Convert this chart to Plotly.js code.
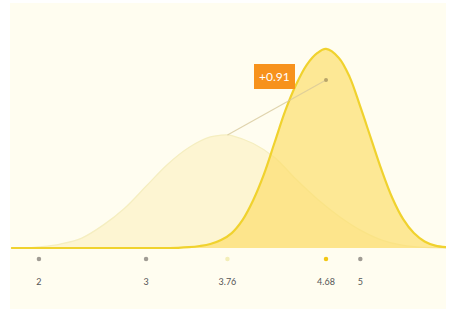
<!DOCTYPE html>
<html><head><meta charset="utf-8">
<script src="https://cdn.plot.ly/plotly-3.0.1.min.js"></script>
<style>html,body{margin:0;padding:0;background:#fff}#c{width:453px;height:313px}</style>
</head><body><div id="c"></div>
<script>
// Light (before) distribution, mean 3.76
const beforeX = [1.9,2.0,2.2,2.4,2.6,2.8,3.0,3.2,3.4,3.6,3.7,3.76,3.8,4.0,4.2,4.4,4.6,4.8,5.0,5.2,5.4,5.6,5.8];
const beforeY = [0,0.005,0.02,0.05,0.115,0.2,0.31,0.42,0.505,0.558,0.567,0.568,0.565,0.525,0.455,0.345,0.245,0.16,0.09,0.04,0.013,0.003,0];
// Gold (after) distribution, mean 4.68
const afterX = [1.74,2.5,3.0,3.3,3.4,3.5,3.6,3.7,3.8,3.9,4.0,4.1,4.2,4.3,4.4,4.5,4.6,4.68,4.8,4.9,5.0,5.1,5.2,5.3,5.4,5.5,5.6,5.7,5.8];
const afterY = [0,0,0,0.001,0.004,0.01,0.02,0.04,0.075,0.14,0.24,0.37,0.53,0.69,0.82,0.92,0.98,1,0.955,0.86,0.71,0.55,0.39,0.25,0.145,0.075,0.033,0.012,0.004];
const tickVals = [2,3,3.76,4.68,5];
const tickText = ['2','3','3.76','4.68','5'];
const tickDotColors = ['#a09c94','#a09c94','#f3eeb8','#f2c714','#a09c94'];
const meanBefore = 3.76, meanAfter = 4.68;
const peakBefore = 0.568, pointAfter = 0.844;
const diffLabel = '+0.91';

const dotY = -0.055, labY = -0.176;

const traces = [
  {x: beforeX, y: beforeY, type:'scatter', mode:'lines', line:{shape:'spline', color:'#f5eec0', width:1.3},
   fill:'tozeroy', fillcolor:'rgba(251,238,180,0.5)', hoverinfo:'skip'},
  {x: afterX, y: afterY, type:'scatter', mode:'lines', line:{shape:'spline', color:'#f0d22e', width:2.2},
   fill:'tozeroy', fillcolor:'rgba(252,222,110,0.7)', hoverinfo:'skip'},
  {x:[meanBefore, meanAfter], y:[peakBefore, pointAfter], type:'scatter', mode:'lines',
   line:{color:'rgba(215,200,155,0.8)', width:1.1}, hoverinfo:'skip'},
  {x:[meanAfter], y:[pointAfter], type:'scatter', mode:'markers', marker:{color:'#b8a46a', size:4}, hoverinfo:'skip'},
  {x: tickVals, y: tickVals.map(()=>dotY), type:'scatter', mode:'markers',
   marker:{color: tickDotColors, size:4.5}, hoverinfo:'skip'},
  {x: tickVals, y: tickVals.map(()=>labY), type:'scatter', mode:'text', text: tickText,
   textfont:{family:'Lato, sans-serif', size:9, color:'#555'}, hoverinfo:'skip'}
];

const layout = {
  width:453, height:313,
  margin:{l:10, r:7, t:3, b:4},
  paper_bgcolor:'#ffffff', plot_bgcolor:'#fffdf0',
  showlegend:false,
  xaxis:{range:[1.73,5.80], showgrid:false, zeroline:false, showticklabels:false, showline:false, ticks:''},
  yaxis:{range:[-0.3065,1.231], showgrid:false, zeroline:false, showticklabels:false, showline:false, ticks:''},
  annotations:[{x:4.196, y:0.864, xref:'x', yref:'y', text:diffLabel, showarrow:false,
    font:{family:'Lato, sans-serif', size:12, color:'#ffffff'},
    bgcolor:'#f7921c', bordercolor:'#f7921c', borderwidth:1, borderpad:4}]
};
Plotly.newPlot('c', traces, layout, {displayModeBar:false, staticPlot:true});
</script></body></html>
